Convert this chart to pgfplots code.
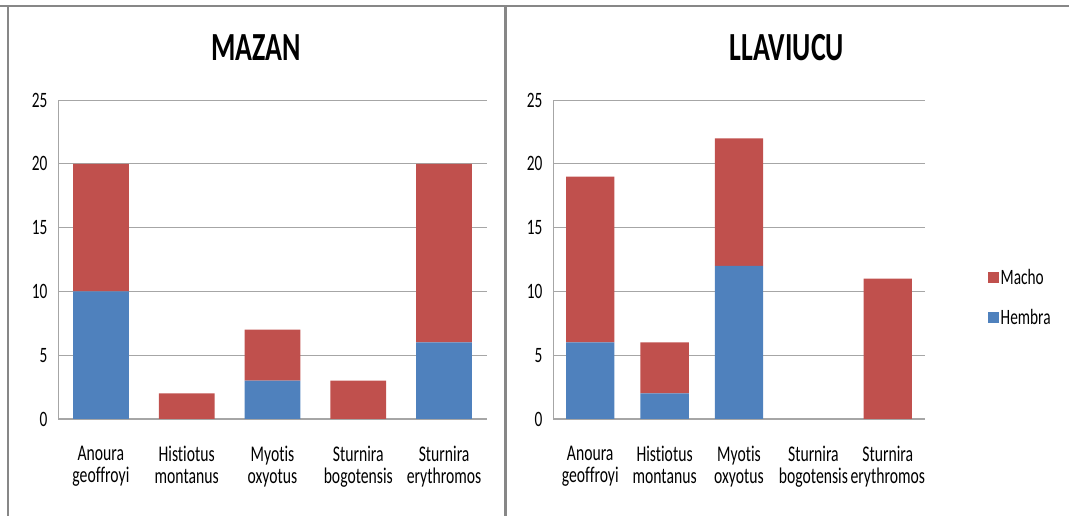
\documentclass[border=0pt]{standalone}
\usepackage{pgfplots}
\pgfplotsset{compat=1.18}
\usepackage{fontspec}
\setmainfont{Carlito}[FakeStretch=0.7, Ligatures=NoCommon]

\definecolor{hembra}{HTML}{4F81BD}
\definecolor{macho}{HTML}{C0504D}
\definecolor{gridc}{HTML}{A6A6A6}
\definecolor{framec}{HTML}{878787}

% Counts per species: x = species index, h = females (Hembra), m = males (Macho)
\pgfplotstableread{
x h m
0 10 10
1 0 2
2 3 4
3 0 3
4 6 14
}\mazan
\pgfplotstableread{
x h m
0 6 13
1 2 4
2 12 10
3 0 0
4 0 11
}\llaviucu

\pgfplotsset{
  panel/.style={
    scale only axis, height=319bp,
    ymin=0, ymax=25, ytick={0,5,...,25},
    xmin=-0.5, xmax=4.5, xtick={0,...,4},
    xticklabels={Anoura\\geoffroyi, Histiotus\\montanus, Myotis\\oxyotus,
                 Sturnira\\bogotensis, Sturnira\\erythromos},
    ybar stacked, bar width=0.65,
    axis x line*=bottom, axis y line*=left,
    axis line style={gridc, line width=1bp, -},
    ymajorgrids, grid style={gridc, line width=0.8bp},
    major tick length=0pt,
    /pgf/number format/assume math mode=true,
    yticklabel style={font=\fontsize{22}{22}\selectfont, xshift=-7bp},
    xticklabel style={font=\fontsize{22.5}{22}\selectfont, align=center, yshift=-24bp},
    title style={font=\fontsize{40}{40}\selectfont\bfseries, anchor=center},
    clip=false,
  },
}

\begin{document}
\begin{tikzpicture}[x=1bp,y=1bp]
\path[use as bounding box] (0,0) rectangle (1069,516);
\draw[framec, line width=2bp] (0,510) -- (1069,510);
\draw[framec, line width=2bp] (8,0) -- (8,510);
\draw[framec, line width=3bp] (505,0) -- (505,510);

\begin{axis}[panel, at={(58bp,97bp)}, anchor=south west, width=429bp,
  title={MAZAN}, title style={at={(0.4615,1.145)}}]
  \addplot[fill=hembra, draw=none] table[x=x, y=h] {\mazan};
  \addplot[fill=macho, draw=none] table[x=x, y=m] {\mazan};
\end{axis}

\begin{axis}[panel, at={(553bp,97bp)}, anchor=south west, width=372bp,
  title={LLAVIUCU}, title style={at={(0.629,1.145)}},
  reverse legend,
  legend style={at={(1.16,0.38)}, anchor=west, draw=none, fill=none,
    font=\fontsize{22}{22}\selectfont, row sep=19bp,
    /tikz/every even column/.append style={column sep=2bp}},
  legend cell align=left,
  legend image code/.code={\fill[#1] (0bp,-5.5bp) rectangle (11bp,5.5bp);}]
  \addplot[fill=hembra, draw=none] table[x=x, y=h] {\llaviucu};
  \addlegendentry{Hembra}
  \addplot[fill=macho, draw=none] table[x=x, y=m] {\llaviucu};
  \addlegendentry{Macho}
\end{axis}
\end{tikzpicture}
\end{document}
